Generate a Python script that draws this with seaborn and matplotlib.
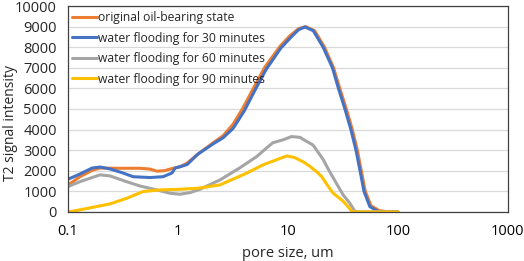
import matplotlib
matplotlib.use("Agg")
import matplotlib.pyplot as plt
import seaborn as sns

# ----------------------------
# DATA
# ----------------------------
orig_x = [0.1, 0.128, 0.169, 0.195, 0.3, 0.45, 0.556, 0.64, 0.75, 0.9, 1.05, 1.21, 1.51,
          2.08, 2.57, 3.16, 3.9, 4.9, 6.2, 8.5, 10.4, 12.5, 14.5, 17.5, 21.5, 26, 29.6,
          34, 38.5, 42.8, 46.5, 50.5, 57, 68, 80, 100]
orig_y = [1310, 1710, 2040, 2130, 2120, 2120, 2080, 1980, 2000, 2120, 2200, 2370, 2800,
          3350, 3700, 4250, 5050, 6050, 7050, 8050, 8550, 8900, 9000, 8800, 8000, 7000, 6000,
          5000, 4000, 3000, 2000, 1000, 300, 60, 10, 0]

w30_x = [0.1, 0.128, 0.165, 0.195, 0.24, 0.316, 0.39, 0.556, 0.73, 0.88, 0.94, 1.05, 1.21,
         1.51, 2.08, 2.57, 3.16, 3.3, 4.0, 5.0, 6.3, 8.6, 10.5, 12.5, 14.3, 17, 20.9, 25.4,
         28.8, 33, 37.4, 41.6, 45.3, 49.2, 55.6, 66, 80, 100]
w30_y = [1590, 1840, 2130, 2180, 2090, 1890, 1710, 1670, 1710, 1890, 2130, 2200, 2300,
         2800, 3300, 3600, 4050, 4200, 4900, 5900, 6900, 7950, 8450, 8850, 8980, 8800, 8000, 7000,
         6000, 5000, 4000, 3000, 2000, 1000, 260, 20, 0, 0]

w60_x = [0.1, 0.128, 0.195, 0.24, 0.34, 0.45, 0.64, 0.84, 1.04, 1.29, 1.58, 2.4, 3.6,
         5.2, 6.6, 7.3, 9.0, 10.8, 12.9, 13.7, 16.9, 20.9, 24, 27.6, 31.6, 36.6, 40.8, 50, 100]
w60_y = [1230, 1470, 1800, 1750, 1470, 1260, 1070, 910, 860, 940, 1100, 1550, 2120,
         2690, 3170, 3360, 3500, 3660, 3620, 3530, 3250, 2550, 1950, 1390, 850, 420, 15, 0, 0]

w90_x = [0.1, 0.128, 0.24, 0.34, 0.48, 0.69, 1.04, 1.51, 2.4, 4.2, 5.9, 8.5, 9.8,
         11.5, 13.7, 15.8, 18.7, 20.3, 22.5, 25.7, 31.8, 36, 38, 40, 100]
w90_y = [0, 100, 390, 660, 990, 1070, 1100, 1150, 1310, 1880, 2280, 2600, 2720,
         2640, 2440, 2220, 1900, 1710, 1350, 920, 520, 200, 30, 0, 0]

series = [
    ("original oil-bearing state", orig_x, orig_y, "#ED7D31"),
    ("water flooding for 30 minutes", w30_x, w30_y, "#4472C4"),
    ("water flooding for 60 minutes", w60_x, w60_y, "#A5A5A5"),
    ("water flooding for 90 minutes", w90_x, w90_y, "#FFC000"),
]

x_ticks = [0.1, 1, 10, 100, 1000]
x_tick_labels = ["0.1", "1", "10", "100", "1000"]
y_ticks = list(range(0, 10001, 1000))

# ----------------------------
# PLOT
# ----------------------------
sns.set_style("white")
plt.rcParams["font.family"] = ["Open Sans", "DejaVu Sans"]

fig = plt.figure(figsize=(5.24, 2.61), dpi=100)
ax = fig.add_axes([0.130, 0.188, 0.839, 0.789])

for label, xs, ys, color in series:
    sns.lineplot(x=xs, y=ys, ax=ax, color=color, label=label, linewidth=2.2)

ax.set_xscale("log")
ax.set_xlim(0.1, 1000)
ax.set_ylim(0, 10000)
ax.set_xticks(x_ticks)
ax.set_xticklabels(x_tick_labels)
ax.minorticks_off()
ax.set_yticks(y_ticks)
ax.yaxis.grid(True, color="#D9D9D9", linewidth=0.9)
ax.set_axisbelow(True)

ax.tick_params(axis="x", direction="in", length=3.5, width=0.9, colors="#404040",
               labelcolor="#000000", labelsize=10.5, pad=9)
ax.tick_params(axis="y", length=0, labelsize=10.5, pad=8)

for side in ["left", "bottom", "top", "right"]:
    ax.spines[side].set_color("#404040")
    ax.spines[side].set_linewidth(0.9)

ax.set_xlabel("pore size, um", fontsize=10.5, labelpad=5)
ax.set_ylabel("T2 signal intensity", fontsize=10)
ax.yaxis.set_label_coords(-0.114, 0.43)

ax.legend(loc="upper left", bbox_to_anchor=(0.008, 0.975), frameon=False,
          fontsize=8.7, handlelength=2.1, handletextpad=0.1, labelspacing=0.62,
          borderaxespad=0, borderpad=0)

fig.savefig("out.png", dpi=100)
